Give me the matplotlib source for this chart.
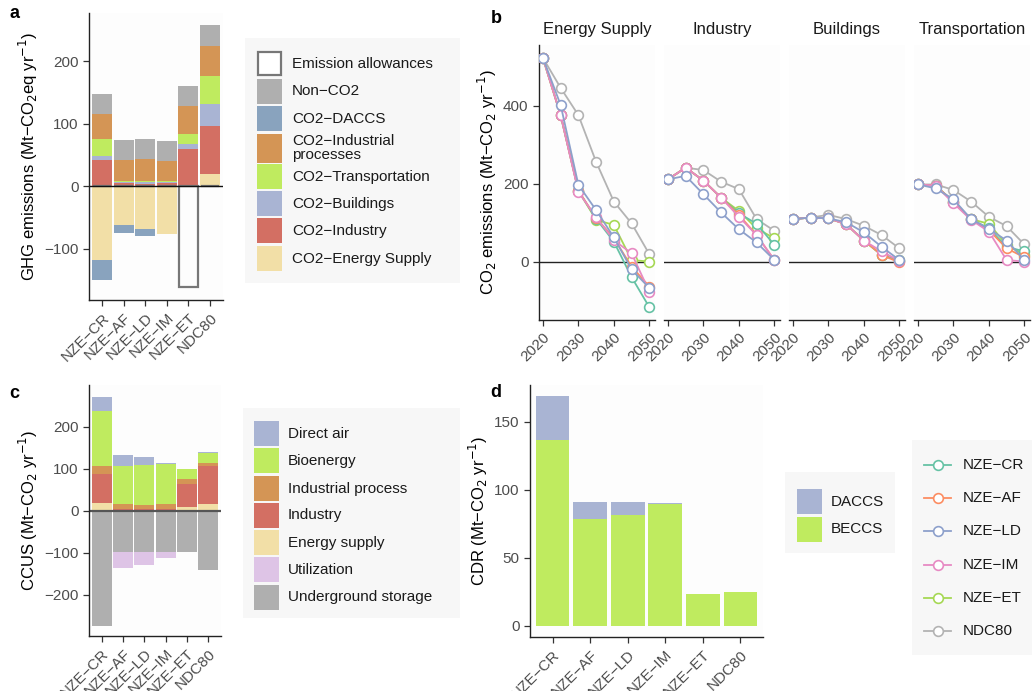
import numpy as np
import matplotlib.pyplot as plt
from matplotlib.patches import Rectangle
from matplotlib.lines import Line2D

plt.rcParams['font.family'] = ['Liberation Sans', 'DejaVu Sans']

scenarios = ["NZE−CR", "NZE−AF", "NZE−LD", "NZE−IM", "NZE−ET", "NDC80"]

# panel a: GHG emissions by sector (Mt-CO2eq / yr)
ghg_energy = [-118, -62, -69, -77, 0, 19]
ghg_industry = [42, 5, 3, 5, 59, 78]
ghg_buildings = [6, 1, 3, 1, 8, 34]
ghg_transport = [27, 2, 2, 2, 16, 45]
ghg_indproc = [40, 34, 35, 33, 45, 48]
ghg_daccs = [-32, -13, -10, 0, 0, 0]
ghg_nonco2 = [32, 32, 32, 32, 32, 34]
ghg_allowance = [0, 0, 0, 0, -162, 0]

# panel b: CO2 emissions trajectories per sector
years = [2020, 2025, 2030, 2035, 2040, 2045, 2050]
sectors = ["Energy Supply", "Industry", "Buildings", "Transportation"]
traj_energy = {
    "NZE−CR": [523, 376, 182, 110, 51, -40, -117],
    "NZE−AF": [523, 376, 182, 112, 60, -13, -64],
    "NZE−LD": [523, 402, 197, 132, 62, -20, -68],
    "NZE−IM": [523, 376, 179, 114, 55, 21, -77],
    "NZE−ET": [523, 376, 182, 107, 94, 4, 0],
    "NDC80": [523, 446, 376, 256, 154, 98, 19],
}
traj_industry = {
    "NZE−CR": [211, 241, 208, 164, 124, 97, 43],
    "NZE−AF": [211, 241, 208, 164, 120, 68, 4],
    "NZE−LD": [211, 220, 173, 126, 83, 49, 4],
    "NZE−IM": [211, 241, 208, 164, 115, 68, 4],
    "NZE−ET": [211, 241, 208, 164, 130, 85, 60],
    "NDC80": [211, 241, 235, 205, 186, 109, 79],
}
traj_buildings = {
    "NZE−CR": [109, 113, 111, 96, 54, 17, 2],
    "NZE−AF": [109, 113, 111, 96, 54, 17, -2],
    "NZE−LD": [109, 113, 111, 101, 75, 38, 4],
    "NZE−IM": [109, 113, 111, 96, 54, 26, 2],
    "NZE−ET": [109, 113, 111, 96, 54, 17, 4],
    "NDC80": [109, 113, 120, 109, 92, 68, 34],
}
traj_transport = {
    "NZE−CR": [198, 195, 154, 109, 85, 38, 26],
    "NZE−AF": [198, 195, 154, 109, 81, 34, 11],
    "NZE−LD": [198, 188, 160, 109, 84, 54, 4],
    "NZE−IM": [198, 195, 150, 107, 77, 4, 0],
    "NZE−ET": [198, 195, 154, 109, 97, 43, 17],
    "NDC80": [198, 198, 184, 154, 115, 91, 44],
}
trajectories = [traj_energy, traj_industry, traj_buildings, traj_transport]
line_colors = {"NZE−CR": "#66C2A5", "NZE−AF": "#FC8D62", "NZE−LD": "#8DA0CB",
               "NZE−IM": "#E78AC3", "NZE−ET": "#A6D854", "NDC80": "#B3B3B3"}

# panel c: CCUS (Mt-CO2 / yr)
ccus_underground = [-274, -99, -99, -99, -99, -140]
ccus_utilization = [0, -36, -29, -13, 0, 0]
ccus_energy = [20, 1, 1, 1, 9.5, 17]
ccus_industry = [69, 3, 3, 3, 55, 89]
ccus_indproc = [17, 13, 10, 13, 12, 9]
ccus_bio = [133, 90, 95, 95, 24, 24]
ccus_direct = [33, 26, 19, 1, 0, 1.5]

# panel d: CDR (Mt-CO2 / yr)
cdr_beccs = [136.6, 78.4, 81.3, 89.7, 23.1, 24.8]
cdr_daccs = [32.4, 12.6, 9.7, 0.5, 0, 0]

c_energy = "#F2DFA7"
c_industry = "#D36F63"
c_build = "#A9B4D3"
c_trans = "#BFEB5F"
c_indproc = "#D49555"
c_daccs = "#89A3BE"
c_nonco2 = "#AFAFAF"
c_util = "#DEC4E6"

W, H = 1032, 691
fig = plt.figure(figsize=(W / 100, H / 100), dpi=100)
tick_fs = 11
lab_fs = 12
title_fs = 12
tick_col = "#4D4D4D"
panel_bg = "#FDFDFD"
legend_bg = "#F7F7F7"


def px_axes(left, top, right, bottom):
    return fig.add_axes([left / W, 1 - bottom / H, (right - left) / W, (bottom - top) / H])


def style(ax):
    ax.set_facecolor(panel_bg)
    for s in ["top", "right"]:
        ax.spines[s].set_visible(False)
    for s in ["left", "bottom"]:
        ax.spines[s].set_linewidth(1.0)
        ax.spines[s].set_color("#222222")
    ax.tick_params(labelsize=tick_fs, labelcolor=tick_col, color="#333333",
                   length=4, width=0.9)


def stack_bars(ax, series, colors, width):
    x = np.arange(len(scenarios))
    pos = np.zeros(len(scenarios))
    neg = np.zeros(len(scenarios))
    for vals, col in zip(series, colors):
        v = np.array(vals, dtype=float)
        bottom = np.where(v >= 0, pos, neg)
        ax.bar(x, v, width, bottom=bottom, color=col, linewidth=0)
        pos += np.clip(v, 0, None)
        neg += np.clip(v, None, 0)


def scen_ticks(ax):
    ax.set_xticks(np.arange(len(scenarios)))
    ax.set_xticklabels(scenarios, rotation=45, ha="right", rotation_mode="anchor")
    ax.set_xlim(-0.6, 5.6)


# ---- panel a
axa = px_axes(89, 13, 223, 300)
style(axa)
stack_bars(axa, [ghg_energy, ghg_industry, ghg_buildings, ghg_transport,
                 ghg_indproc, ghg_daccs, ghg_nonco2],
           [c_energy, c_industry, c_build, c_trans, c_indproc, c_daccs, c_nonco2], 0.92)
axa.bar(np.arange(len(scenarios)), ghg_allowance, 0.85, color="none",
        edgecolor="#777777", linewidth=1.6)
axa.axhline(0, color="#111111", lw=1.0)
axa.set_ylim(-182, 277)
axa.set_yticks([-100, 0, 100, 200])
scen_ticks(axa)
axa.set_ylabel("GHG emissions (Mt−CO$_2$eq yr$^{-1}$)", fontsize=lab_fs, labelpad=3)

# ---- panel b
for i, (sec, traj) in enumerate(zip(sectors, trajectories)):
    left = 539 + i * 125
    ax = px_axes(left, 45, left + 116, 320)
    style(ax)
    for name in ["NDC80", "NZE−ET", "NZE−CR", "NZE−AF", "NZE−IM", "NZE−LD"]:
        ax.plot(years, traj[name], color=line_colors[name], lw=1.3, marker="o",
                ms=7, mfc="white", mew=1.2, zorder=3)
    ax.axhline(0, color="#222222", lw=1.0, zorder=2)
    ax.set_xlim(2018.9, 2051.6)
    ax.set_ylim(-150, 556)
    ax.set_xticks([2020, 2030, 2040, 2050])
    ax.set_xticklabels(["2020", "2030", "2040", "2050"], rotation=45, ha="right",
                       rotation_mode="anchor")
    ax.set_title(sec, fontsize=title_fs, pad=8, color="#1A1A1A")
    if i == 0:
        ax.set_yticks([0, 200, 400])
        ax.set_ylabel("CO$_2$ emissions (Mt−CO$_2$ yr$^{-1}$)", fontsize=lab_fs, labelpad=3)
    else:
        ax.spines["left"].set_visible(False)
        ax.set_yticks([])

# ---- panel c
axc = px_axes(89, 385, 221, 636)
style(axc)
stack_bars(axc, [ccus_underground, ccus_utilization, ccus_energy, ccus_industry,
                 ccus_indproc, ccus_bio, ccus_direct],
           [c_nonco2, c_util, c_energy, c_industry, c_indproc, c_trans, c_build], 0.95)
axc.axhline(0, color="#555555", lw=1.6)
axc.set_ylim(-298, 300)
axc.set_yticks([-200, -100, 0, 100, 200])
scen_ticks(axc)
axc.set_ylabel("CCUS (Mt−CO$_2$ yr$^{-1}$)", fontsize=lab_fs, labelpad=3)

# ---- panel d
axd = px_axes(530, 385, 763, 637)
style(axd)
stack_bars(axd, [cdr_beccs, cdr_daccs], [c_trans, c_build], 0.9)
axd.set_ylim(-8.4, 177)
axd.set_yticks([0, 50, 100, 150])
scen_ticks(axd)
axd.set_ylabel("CDR (Mt−CO$_2$ yr$^{-1}$)", fontsize=lab_fs, labelpad=3)

# ---- legends and panel letters (pixel coordinates overlay)
ov = fig.add_axes([0, 0, 1, 1], zorder=-1)
ov.set_xlim(0, W)
ov.set_ylim(H, 0)
ov.axis("off")
leg_fs = 11


def legend_block(bg, box_x, text_x, entries):
    ov.add_patch(Rectangle((bg[0], bg[1]), bg[2] - bg[0], bg[3] - bg[1],
                           color=legend_bg, lw=0))
    for label, col, yc, h in entries:
        if col is None:
            ov.add_patch(Rectangle((box_x + 1, yc - h / 2 + 1), 23, h - 2,
                                   facecolor="white", edgecolor="#777777", lw=1.6))
        else:
            ov.add_patch(Rectangle((box_x, yc - h / 2), 25, h, color=col, lw=0))
        ov.text(text_x, yc, label, fontsize=leg_fs, va="center", ha="left",
                color="#1A1A1A", linespacing=1.0)


legend_block((245, 38, 460, 283), 257, 292, [
    ("Emission allowances", None, 63.5, 25),
    ("Non−CO2", c_nonco2, 91, 25),
    ("CO2−DACCS", c_daccs, 118.5, 25),
    ("CO2−Industrial\nprocesses", c_indproc, 148, 29),
    ("CO2−Transportation", c_trans, 176.5, 25),
    ("CO2−Buildings", c_build, 203.5, 25),
    ("CO2−Industry", c_industry, 230.5, 25),
    ("CO2−Energy Supply", c_energy, 258.5, 25),
])

legend_block((243, 408, 460, 618), 254, 288, [
    ("Direct air", c_build, 433.5, 25),
    ("Bioenergy", c_trans, 460.5, 25),
    ("Industrial process", c_indproc, 488.5, 25),
    ("Industry", c_industry, 515.5, 25),
    ("Energy supply", c_energy, 542.5, 25),
    ("Utilization", c_util, 569.5, 25),
    ("Underground storage", c_nonco2, 597.5, 25),
])

legend_block((785, 472, 895, 553), 797, 831, [
    ("DACCS", c_build, 501.5, 25),
    ("BECCS", c_trans, 529, 25),
])

ov.add_patch(Rectangle((912, 440), 120, 215, color=legend_bg, lw=0))
for k, name in enumerate(scenarios):
    yc = 465 + k * 33.2
    ov.add_line(Line2D([924, 951], [yc, yc], color=line_colors[name], lw=1.3))
    ov.plot([937.5], [yc], marker="o", ms=7, mfc="white", mec=line_colors[name], mew=1.2)
    ov.text(963, yc, name, fontsize=leg_fs, va="center", ha="left", color="#1A1A1A")

for letter, (lx, ly) in zip("abcd", [(14, 13), (496, 18), (14, 393), (496, 392)]):
    ov.text(lx, ly, letter, fontsize=13, fontweight="bold", va="center", ha="center")

fig.savefig("out.png", dpi=100)
